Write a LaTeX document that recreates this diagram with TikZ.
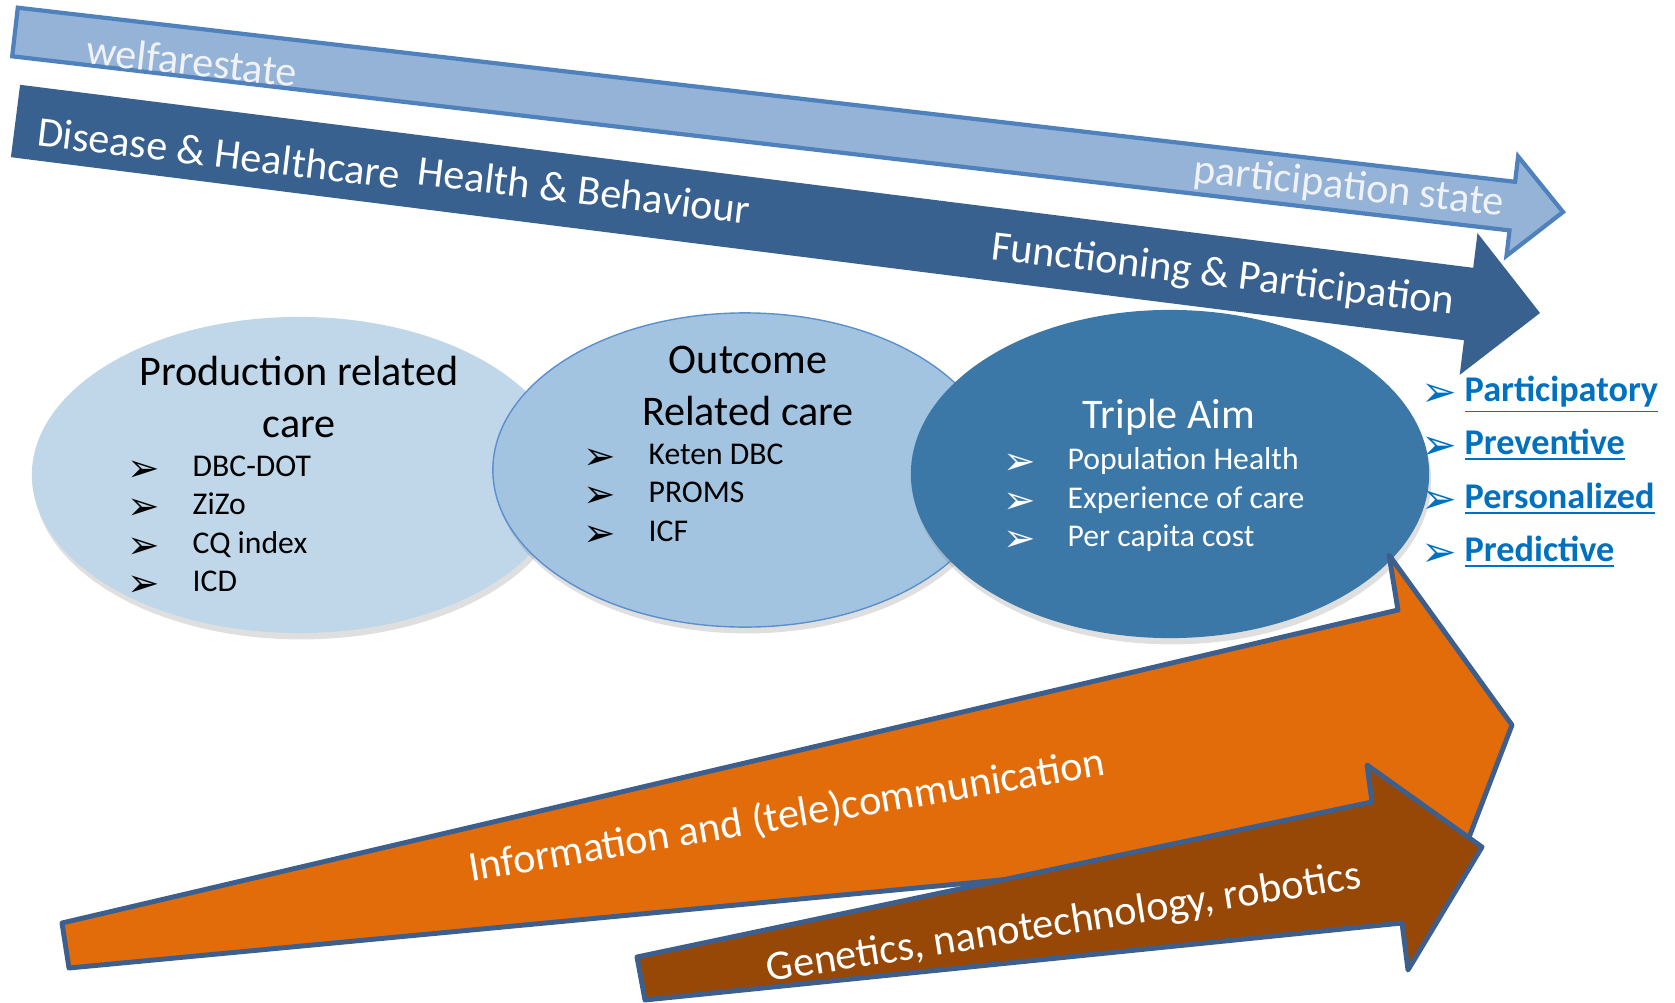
\documentclass[tikz,border=0pt]{standalone}
\usepackage{fontspec}
\setmainfont{Carlito}
\newfontfamily\bulletfont{DejaVu Sans}
\usepackage{tikz}
\usetikzlibrary{positioning,shapes,shadows}
\definecolor{welffill}{HTML}{95B3D7}
\definecolor{welfline}{HTML}{4F81BD}
\definecolor{welftext}{HTML}{F0F2F6}
\definecolor{darkfill}{HTML}{38618F}
\definecolor{prodfill}{HTML}{BFD7E8}
\definecolor{outcfill}{HTML}{A3C4E0}
\definecolor{outcline}{HTML}{5A8FD0}
\definecolor{tripfill}{HTML}{3B78A8}
\definecolor{infofill}{HTML}{E36C0A}
\definecolor{genefill}{HTML}{974806}
\definecolor{techline}{HTML}{3C5F8E}
\definecolor{linkblue}{HTML}{0070C0}
\tikzset{
  lightband/.style = {fill=welffill, draw=welfline, line width=1.2pt, line join=miter},
  darkband/.style  = {fill=darkfill},
  techband/.style  = {draw=techline, line width=1.4pt, line join=round},
  oval/.style      = {ellipse, inner sep=0pt, draw=none,
                      drop shadow={opacity=0.25, shadow xshift=0.6pt, shadow yshift=-1.8pt}},
  bandtext/.style  = {text=white, inner sep=0pt, font=\fontsize{12}{14}\selectfont},
  ovaltitle/.style = {align=center, inner sep=0pt, font=\fontsize{12}{14.6}\selectfont},
  item/.style      = {anchor=base west, inner sep=0pt, font=\fontsize{9}{11}\selectfont},
  tick/.style      = {anchor=base, inner sep=0pt, yshift=-1.5pt, font=\bulletfont\fontsize{11}{11}\selectfont},
  goal/.style      = {anchor=base west, inner sep=0pt, text=linkblue,
                      font=\bfseries\fontsize{10.3}{12}\selectfont}
}

\begin{document}
\begin{tikzpicture}[x=0.01cm, y=-0.01cm]
  \useasboundingbox (0,0) rectangle (1675,1003);

  % the three care ovals
  \node[oval, fill=prodfill, minimum width=5.34cm, minimum height=3.16cm] (prod) at (299,475) {};
  \node[oval, fill=outcfill, draw=outcline, thin, minimum width=5.04cm, minimum height=3.14cm] (outc) at (745,470) {};
  \node[oval, fill=tripfill, minimum width=5.18cm, minimum height=3.28cm] (trip) at (1170,474) {};

  % top bands
  \draw[lightband] (17.8,7.7) -- (1515.1,181.8) -- (1518.1,156.4) -- (1563,212)
        -- (1506.5,255.8) -- (1509.5,230.4) -- (12.2,56.3) -- cycle;
  \fill[darkband] (20.1,84.8) -- (1473.2,267.8) -- (1477.5,233.1) -- (1540,313)
        -- (1459.7,374.9) -- (1464.0,340.2) -- (10.9,157.2) -- cycle;

  % technology wedges
  \draw[techband, fill=infofill] (62,923) -- (1398,610) -- (1389,555) -- (1512,725)
        -- (1445,900) -- (1435,839) -- (69,968) -- cycle;
  \draw[techband, fill=genefill] (637,957) -- (1372,802) -- (1367,765) -- (1482,847)
        -- (1408,970) -- (1402,923) -- (645,1000) -- cycle;

  % band labels
  \node[bandtext, text=welftext, rotate=-6.3] (welf) at (192,61) {welfarestate};
  \node[bandtext, text=welftext, rotate=-6.3] (part) at (1349,188) {participation state};
  \node[bandtext, rotate=-6.8] (dis) at (219,153) {Disease \& Healthcare};
  \node[bandtext, rotate=-6.8] (hlth) at (584,190) {Health \& Behaviour};
  \node[bandtext, rotate=-6.8] (func) at (1223,276) {Functioning \& Participation};
  \node[bandtext, rotate=9.5] (info) at (787,816) {Information and (tele)communication};
  \node[bandtext, rotate=9] (gene) at (1064,924) {Genetics, nanotechnology, robotics};

  % production related care
  \node[ovaltitle] (prodtitle) at (299,397) {Production related\\care};
  \node[tick] (pb1) at (144,476) {➢};   \node[item] (pi1) at (192,476) {DBC-DOT};
  \node[tick] (pb2) at (144,514) {➢};   \node[item] (pi2) at (192,514) {ZiZo};
  \node[tick] (pb3) at (144,553) {➢};   \node[item] (pi3) at (192,553) {CQ index};
  \node[tick] (pb4) at (144,591) {➢};   \node[item] (pi4) at (192,591) {ICD};

  % outcome related care
  \node[ovaltitle] (outctitle) at (748,386) {Outcome\\Related care};
  \node[tick] (ob1) at (600,464) {➢};   \node[item] (oi1) at (648,464) {Keten DBC};
  \node[tick] (ob2) at (600,502) {➢};   \node[item] (oi2) at (648,502) {PROMS};
  \node[tick] (ob3) at (600,541) {➢};   \node[item] (oi3) at (648,541) {ICF};

  % triple aim
  \node[ovaltitle, text=white] (triptitle) at (1169,417) {Triple Aim};
  \node[tick, text=white] (tb1) at (1020,469) {➢};   \node[item, text=white] (ti1) at (1067,469) {Population Health};
  \node[tick, text=white] (tb2) at (1020,508) {➢};   \node[item, text=white] (ti2) at (1067,508) {Experience of care};
  \node[tick, text=white] (tb3) at (1020,546) {➢};   \node[item, text=white] (ti3) at (1067,546) {Per capita cost};

  % P4 list
  \node[tick, text=linkblue, scale=1.1] (gb1) at (1439,401) {➢};  \node[goal] (gi1) at (1464,401) {\underline{Participatory}};
  \node[tick, text=linkblue, scale=1.1] (gb2) at (1439,454) {➢};  \node[goal] (gi2) at (1464,454) {\underline{Preventive}};
  \node[tick, text=linkblue, scale=1.1] (gb3) at (1439,508) {➢};  \node[goal] (gi3) at (1464,508) {\underline{Personalized}};
  \node[tick, text=linkblue, scale=1.1] (gb4) at (1439,561) {➢};  \node[goal] (gi4) at (1464,561) {\underline{Predictive}};
\end{tikzpicture}
\end{document}
